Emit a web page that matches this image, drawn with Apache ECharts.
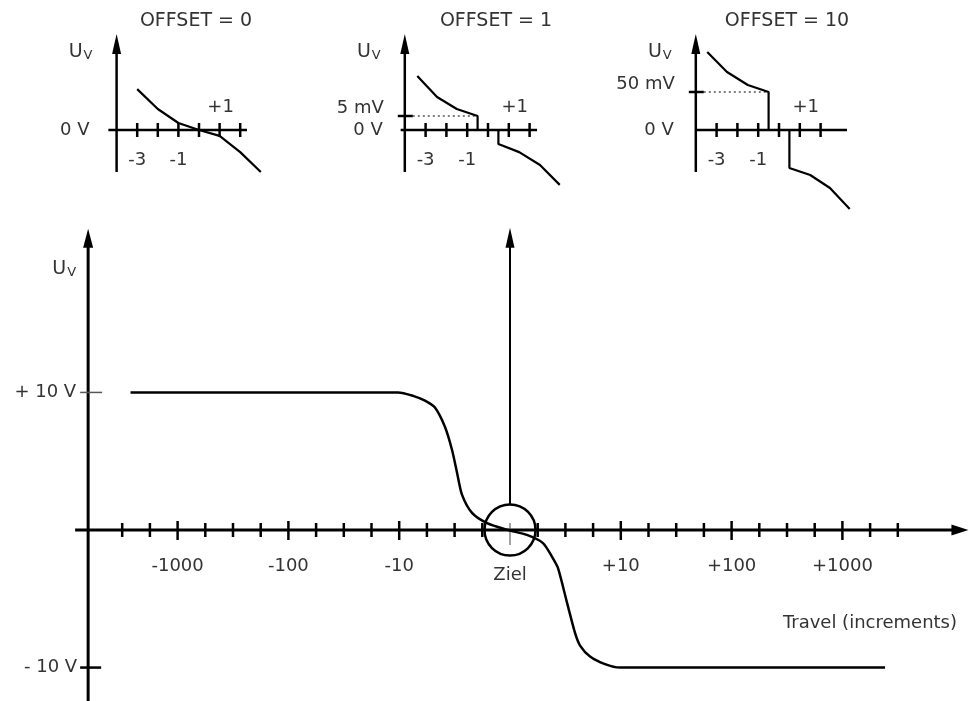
<!DOCTYPE html>
<html>
<head>
<meta charset="utf-8">
<script src="https://cdn.jsdelivr.net/npm/echarts@6/dist/echarts.min.js"></script>
<style>
html,body{margin:0;padding:0;background:#fff;}
#chart{width:969px;height:701px;}
</style>
</head>
<body>
<div id="chart"></div>
<script>
// main curve: travel in tick steps (0 = Ziel), voltage in V
var mainTravel = [-13.7, -4.04, -3.5, -3.07, -2.71, -2.35, -2.09, -1.91, -1.73, -1.37, -0.83, -0.07, 0.61, 1.19, 1.52, 1.73, 2.06, 2.35, 2.53, 2.89, 3.43, 3.97, 13.54];
var mainVolt   = [10, 10, 9.75, 9.4, 8.9, 7.5, 5.8, 4.15, 2.55, 1.24, 0.5, 0, -0.36, -0.95, -1.96, -2.76, -5.3, -7.5, -8.4, -9.2, -9.75, -10, -10];
var mainTicks  = [-14, -13, -12, -11, -10, -9, -8, -7, -6, -5, -4, -3, -2, -1, 1, 2, 3, 4, 5, 6, 7, 8, 9, 10, 11, 12, 13, 14];
var mainMajor  = [-12, -8, -4, 4, 8, 12];
var mainLabels = ['-1000', '-100', '-10', '+10', '+100', '+1000'];

// small charts: travel in increments, voltage in mV
var off0Travel  = [-3, -2, -1, 0, 1, 2, 3];
var off0Volt    = [14.6, 7.5, 2.5, 0, -2.1, -7.9, -15];
var off1Travel  = [-3.4, -2.45, -1.5, -0.5, -0.5, 0.5, 0.5, 1.5, 2.5, 3.45];
var off1Volt    = [19.3, 11.8, 7.5, 5, 0, 0, -5, -7.9, -12.5, -19.6];
var off10Travel = [-3.45, -2.5, -1.5, -0.5, -0.5, 0.5, 0.5, 1.5, 2.45, 3.4];
var off10Volt   = [102.6, 76.3, 59.2, 50, 0, 0, -50, -59.2, -76.3, -104];
var smallTicks  = [-3, -2, -1, 0, 1, 2];
var smallLabelAt = [-3, -1];
var smallLabels = ['-3', '-1'];
var offsetTitles = ['OFFSET = 0', 'OFFSET = 1', 'OFFSET = 10'];
var levelValues = [null, 5, 50];
var levelLabels = [null, '5 mV', '50 mV'];

var FONT = '"DejaVu Sans", "Liberation Sans", sans-serif';
var TXT = '#333';

var myChart = echarts.init(document.getElementById('chart'));

// pixel origin + scale -> grid and axis ranges
var panels = [
  {ox: 510, oy: 530, sx: 27.7, sy: 13.757, left: 75, top: 225, width: 894, height: 476},
  {ox: 199, oy: 130, sx: 20.6, sy: 2.8, left: 90, top: 25, width: 190, height: 170, xFrom: -4.4, xTo: 2.33},
  {ox: 488, oy: 130, sx: 20.8, sy: 2.8, left: 385, top: 25, width: 190, height: 170, xFrom: -4.2, xTo: 2.36},
  {ox: 779, oy: 130, sx: 20.8, sy: 0.76, left: 675, top: 25, width: 190, height: 190, xFrom: -4.0, xTo: 3.27}
];

var grids = [], xAxes = [], yAxes = [];
panels.forEach(function (p, i) {
  grids.push({left: p.left, top: p.top, width: p.width, height: p.height});
  xAxes.push({type: 'value', gridIndex: i, show: false,
    min: (p.left - p.ox) / p.sx, max: (p.left + p.width - p.ox) / p.sx});
  yAxes.push({type: 'value', gridIndex: i, show: false,
    max: (p.oy - p.top) / p.sy, min: (p.oy - p.top - p.height) / p.sy});
});

function zip(a, b) {
  var r = [];
  for (var i = 0; i < a.length; i++) r.push([a[i], b[i]]);
  return r;
}

function line(x1, y1, x2, y2, w, color, dash) {
  return {type: 'line', shape: {x1: x1, y1: y1, x2: x2, y2: y2},
    style: {stroke: color || '#000', lineWidth: w, lineDash: dash || null}};
}
function arrowUp(x, y, w, h) {
  return {type: 'polygon', shape: {points: [[x, y], [x - w / 2, y + h], [x + w / 2, y + h]]}, style: {fill: '#000'}};
}
function arrowRight(x, y, w, h) {
  return {type: 'polygon', shape: {points: [[x, y], [x - h, y - w / 2], [x - h, y + w / 2]]}, style: {fill: '#000'}};
}
function text(x, y, s, size, align, rich) {
  return {type: 'text', style: {x: x, y: y, text: s, font: size + 'px ' + FONT, fill: TXT,
    textAlign: align || 'center', textVerticalAlign: 'middle', align: align || 'center', verticalAlign: 'middle', rich: rich}};
}
var uvRich = {
  u: {fontSize: 19, fontFamily: FONT, color: TXT},
  v: {fontSize: 13, fontFamily: FONT, color: TXT, verticalAlign: 'bottom', padding: [8, 0, 0, 1]}
};

// main chart frame
function renderMain(params, api) {
  var o = api.coord([0, 0]);
  var yx = api.coord([-15.23, 0])[0];
  var xl = api.coord([-15.7, 0])[0];
  var xr = api.coord([16.55, 0])[0];
  var yTop = api.coord([0, 21.9])[1];
  var yBot = api.coord([0, -12.6])[1];
  var p10 = api.coord([0, 10])[1];
  var m10 = api.coord([0, -10])[1];
  var ch = [];
  ch.push(line(yx, yBot, yx, yTop + 16, 3));
  ch.push(arrowUp(yx, yTop, 10, 19));
  ch.push(line(xl, o[1], xr - 14, o[1], 3));
  ch.push(arrowRight(xr, o[1], 11, 17));
  mainTicks.forEach(function (t) {
    var tx = api.coord([t, 0])[0];
    var major = mainMajor.indexOf(t) >= 0;
    ch.push(line(tx, o[1] - (major ? 9 : 7), tx, o[1] + (major ? 10 : 7), 2.5));
  });
  mainMajor.forEach(function (t, i) {
    ch.push(text(api.coord([t, 0])[0], o[1] + 36, mainLabels[i], 18));
  });
  // Ziel marker
  ch.push(line(o[0], yTop + 16, o[0], o[1] - 25, 2));
  ch.push(arrowUp(o[0], yTop - 1, 9, 20));
  ch.push({type: 'circle', shape: {cx: o[0], cy: o[1], r: 25.5}, style: {fill: null, stroke: '#000', lineWidth: 2.5}});
  ch.push(line(o[0], o[1] - 7, o[0], o[1] + 15, 1, '#444'));
  ch.push(text(o[0], o[1] + 45, 'Ziel', 18));
  // voltage ticks
  ch.push(line(yx - 8, p10, yx + 14, p10, 1.5, '#555'));
  ch.push(line(yx - 8, m10, yx + 13, m10, 2.5));
  ch.push(text(yx - 12, p10, '+ 10 V', 18, 'right'));
  ch.push(text(yx - 11, m10, '- 10 V', 18, 'right'));
  ch.push(text(yx - 24, yTop + 40, '{u|U}{v|V}', 19, 'center', uvRich));
  ch.push(text(957, 623, 'Travel (increments)', 18, 'right'));
  return {type: 'group', children: ch};
}

// small chart frame
function makeSmall(k) {
  var p = panels[k + 1];
  return function (params, api) {
    var o = api.coord([0, 0]);
    var yx = api.coord([-4, 0])[0];
    var xl = api.coord([p.xFrom, 0])[0];
    var xr = api.coord([p.xTo, 0])[0];
    var ch = [];
    ch.push(line(yx, o[1] + 42, yx, o[1] - 80, 2.5));
    ch.push(arrowUp(yx, o[1] - 96, 9, 20));
    ch.push(line(xl, o[1], xr, o[1], 2.5));
    smallTicks.forEach(function (t) {
      var tx = api.coord([t, 0])[0];
      ch.push(line(tx, o[1] - 7, tx, o[1] + 7, 2.5));
    });
    smallLabelAt.forEach(function (t, i) {
      ch.push(text(api.coord([t, 0])[0], o[1] + 30, smallLabels[i], 18));
    });
    ch.push(text(api.coord([1, 0])[0] + (k === 0 ? 1 : 6), o[1] - 23, '+1', 18));
    ch.push(text(yx - (k === 0 ? 27 : 22), o[1], '0 V', 18, 'right'));
    ch.push(text(yx - 36, o[1] - 78, '{u|U}{v|V}', 19, 'center', uvRich));
    if (levelValues[k] !== null) {
      var ly = api.coord([0, levelValues[k]])[1];
      var lx = api.coord([-0.5, 0])[0];
      ch.push(line(yx - 7, ly, yx + 8, ly, 2.5));
      ch.push(line(yx + 8, ly, lx, ly, 1, '#000', [2, 3]));
      ch.push(text(yx - 21, ly - 8, levelLabels[k], 18, 'right'));
    }
    ch.push(text(p.ox - 2 + (k === 0 ? -1 : 10), 21, offsetTitles[k], 19));
    return {type: 'group', children: ch};
  };
}

var curveStyle = {color: '#000', width: 2.5};
var series = [
  {type: 'custom', xAxisIndex: 0, yAxisIndex: 0, data: [0], renderItem: renderMain, silent: true, clip: false},
  {type: 'line', xAxisIndex: 0, yAxisIndex: 0, data: zip(mainTravel, mainVolt), showSymbol: false, symbol: 'none',
    smooth: 0.25, lineStyle: curveStyle, z: 3},
  {type: 'line', xAxisIndex: 1, yAxisIndex: 1, data: zip(off0Travel, off0Volt), symbol: 'none', lineStyle: {color: '#000', width: 2.2}, z: 3},
  {type: 'line', xAxisIndex: 2, yAxisIndex: 2, data: zip(off1Travel, off1Volt), symbol: 'none', lineStyle: {color: '#000', width: 2.2}, z: 3},
  {type: 'line', xAxisIndex: 3, yAxisIndex: 3, data: zip(off10Travel, off10Volt), symbol: 'none', lineStyle: {color: '#000', width: 2.2}, z: 3}
];
for (var k = 0; k < 3; k++) {
  series.push({type: 'custom', xAxisIndex: k + 1, yAxisIndex: k + 1, data: [0], renderItem: makeSmall(k), silent: true, clip: false});
}

var option = {
  animation: false,
  backgroundColor: '#fff',
  grid: grids,
  xAxis: xAxes,
  yAxis: yAxes,
  series: series
};
myChart.setOption(option);
</script>
</body>
</html>
